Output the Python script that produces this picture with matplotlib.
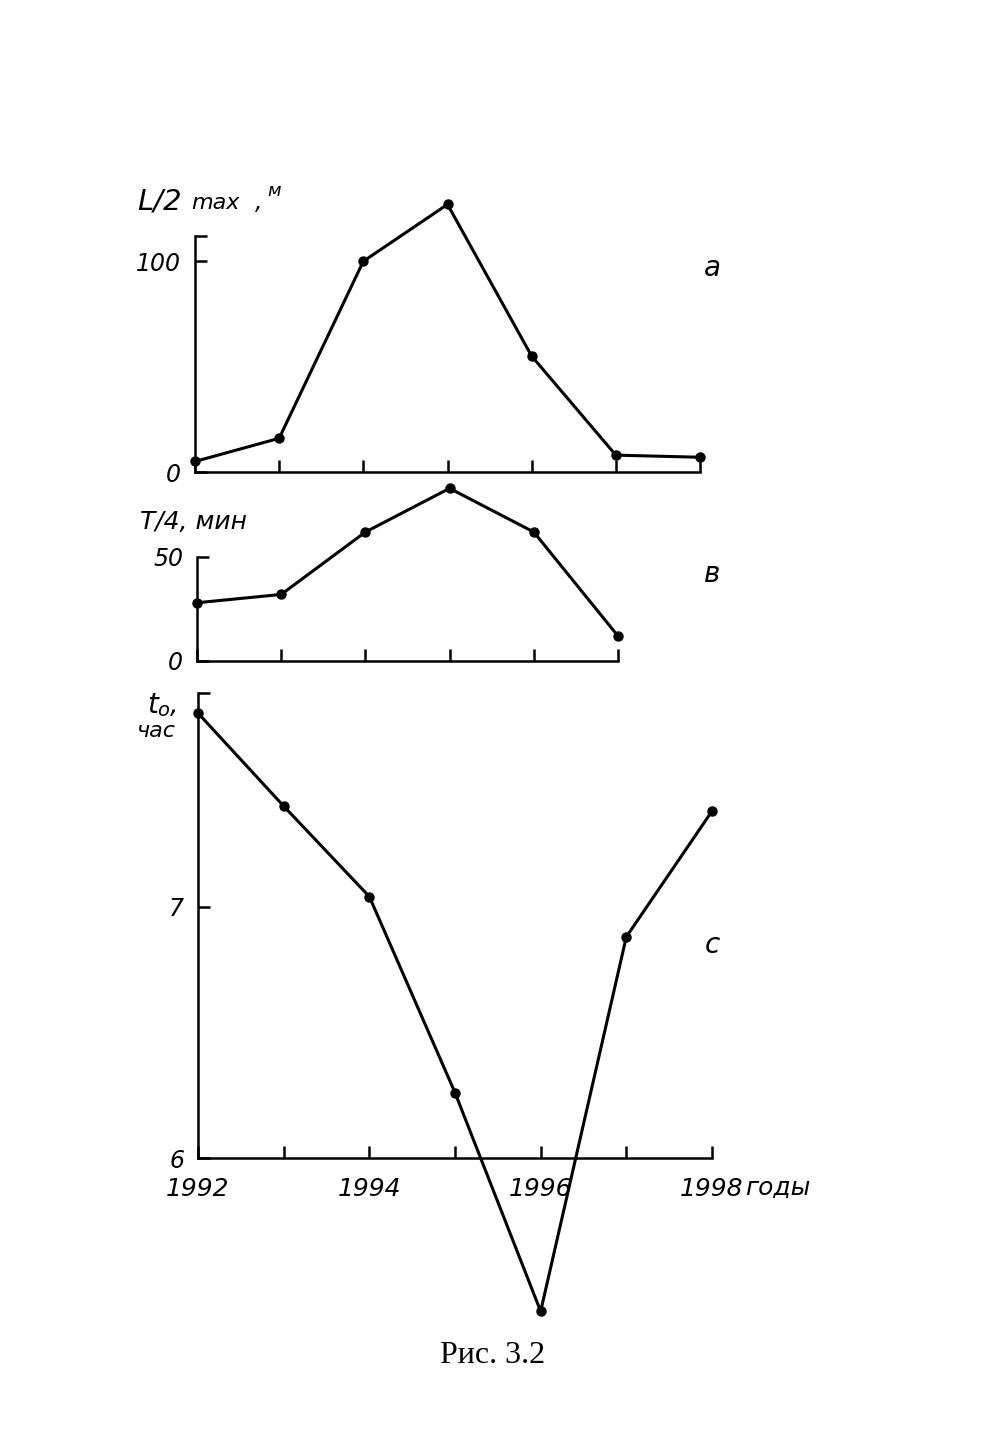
import matplotlib
matplotlib.use('Agg')
import matplotlib.pyplot as plt

# Данные
years = [1992, 1993, 1994, 1995, 1996, 1997, 1998]
half_len = [5, 16, 100, 127, 55, 8, 7]          # L/2 max, м
years_b = [1992, 1993, 1994, 1995, 1996, 1997]
quarter_period = [28, 32, 62, 83, 62, 12]       # T/4, мин
t0 = [7.77, 7.40, 7.04, 6.26, 5.39, 6.88, 7.38]  # t0, час

W, H = 994, 1433

def box(x0, y0, x1, y1):
    # пиксели картинки -> доли фигуры
    return [x0 / W, 1 - y1 / H, (x1 - x0) / W, (y1 - y0) / H]

def fx(x):
    return x / W

def fy(y):
    return 1 - y / H

plt.rcParams['font.family'] = ['DejaVu Sans']
fig = plt.figure(figsize=(W / 100, H / 100), dpi=100)
fig.patch.set_facecolor('white')

lw = 2.2
ms = 6.5
tick_kw = dict(direction='in', length=8.5, width=1.8, labelsize=17, pad=10)

def style(ax):
    for s in ['top', 'right']:
        ax.spines[s].set_visible(False)
    for s in ['left', 'bottom']:
        ax.spines[s].set_linewidth(1.8)
    ax.tick_params(**tick_kw)
    for lab in ax.get_xticklabels() + ax.get_yticklabels():
        lab.set_fontstyle('italic')

# Панель а
ax_a = fig.add_axes(box(195, 236, 700, 472))
ax_a.plot(years, half_len, color='black', lw=lw, marker='o', ms=ms, clip_on=False)
ax_a.set_xlim(1992, 1998)
ax_a.set_ylim(0, 112)
ax_a.set_xticks(years)
ax_a.set_xticklabels([])
ax_a.set_yticks([0, 100, 112])
ax_a.set_yticklabels(['0', '100', ''])
style(ax_a)

# Панель в
ax_b = fig.add_axes(box(197, 557, 618, 661))
ax_b.plot(years_b, quarter_period, color='black', lw=lw, marker='o', ms=ms, clip_on=False)
ax_b.set_xlim(1992, 1997)
ax_b.set_ylim(0, 50)
ax_b.set_xticks(years_b)
ax_b.set_xticklabels([])
ax_b.set_yticks([0, 50])
ax_b.set_yticklabels(['0', '50'])
style(ax_b)

# Панель с
ax_c = fig.add_axes(box(198, 693, 712, 1158))
ax_c.plot(years, t0, color='black', lw=lw, marker='o', ms=ms, clip_on=False)
ax_c.set_xlim(1992, 1998)
ax_c.set_ylim(6, 7.85)
ax_c.set_xticks(years)
ax_c.set_xticklabels(['1992', '', '1994', '', '1996', '', '1998'])
ax_c.set_yticks([6, 7, 7.85])
ax_c.set_yticklabels(['6', '7', ''])
style(ax_c)
ax_c.tick_params(axis='x', pad=14, labelsize=18)

# Подписи осей
ital = dict(fontstyle='italic', color='black', va='baseline', ha='left')
fig.text(fx(137), fy(209), 'L/2', fontsize=21, **ital)
fig.text(fx(191), fy(209), 'max', fontsize=16, **ital)
fig.text(fx(255), fy(209), ',', fontsize=17, **ital)
fig.text(fx(267), fy(196), 'м', fontsize=13, **ital)

fig.text(fx(140), fy(529), 'T/4, мин', fontsize=18, **ital)

fig.text(fx(147), fy(713), 't', fontsize=20, **ital)
fig.text(fx(157), fy(716), 'o', fontsize=14, **ital)
fig.text(fx(170), fy(713), ',', fontsize=19, **ital)
fig.text(fx(137), fy(737), 'час', fontsize=16, **ital)

fig.text(fx(745), fy(1195), 'годы', fontsize=18, **ital)

# Буквы панелей
fig.text(fx(712), fy(276), 'а', fontsize=20, fontstyle='italic', ha='center', va='baseline')
fig.text(fx(712), fy(582), 'в', fontsize=20, fontstyle='italic', ha='center', va='baseline')
fig.text(fx(712), fy(953), 'с', fontsize=20, fontstyle='italic', ha='center', va='baseline')

# Подпись рисунка
fig.text(fx(493), fy(1363), 'Рис. 3.2', fontsize=23, family='Liberation Serif',
         ha='center', va='baseline')

fig.savefig('out.png', dpi=100, facecolor='white')
